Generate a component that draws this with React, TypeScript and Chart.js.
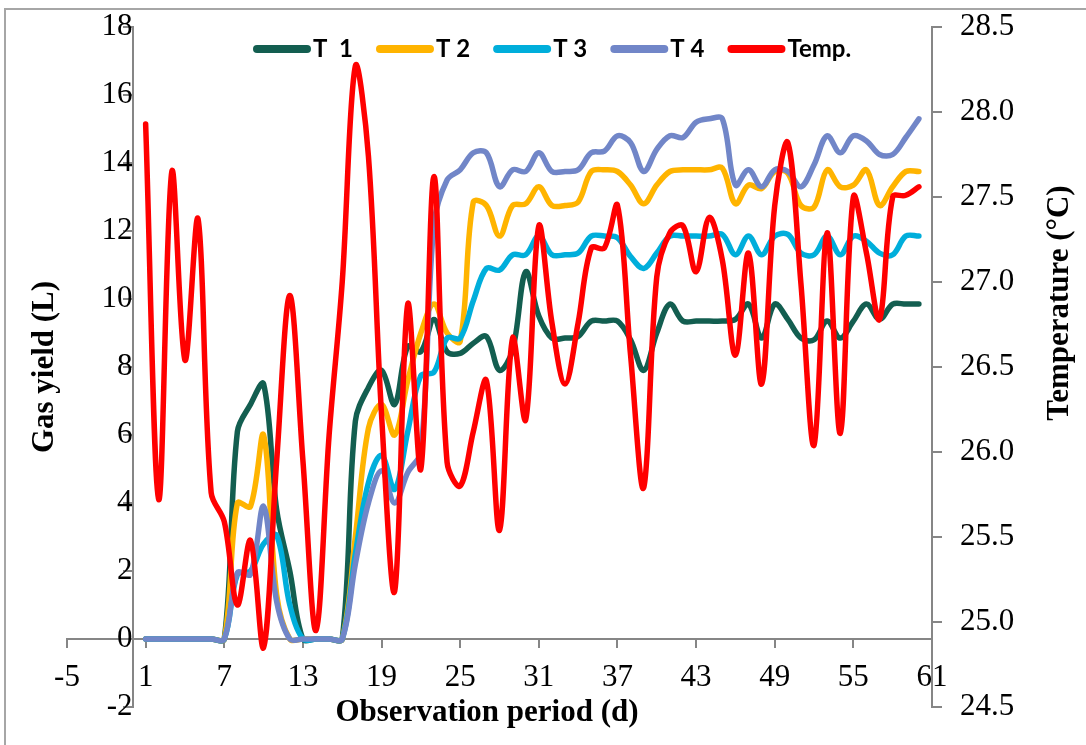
import React, { useEffect, useRef } from 'react';
import { Chart, registerables } from 'chart.js';

Chart.register(...registerables);

// ---------- data ----------
const DAYS = [
  1, 2, 3, 4, 5, 6, 7, 8, 9, 10,
  11, 12, 13, 14, 15, 16, 17, 18, 19, 20,
  21, 22, 23, 24, 25, 26, 27, 28, 29, 30,
  31, 32, 33, 34, 35, 36, 37, 38, 39, 40,
  41, 42, 43, 44, 45, 46, 47, 48, 49, 50,
  51, 52, 53, 54, 55, 56, 57, 58, 59, 60,
];

const T1 = [
  0, 0, 0, 0, 0, 0, 0, 6.1, 6.9, 7.5,
  3.8, 2.0, 0, 0, 0, 0, 6.4, 7.4, 7.9, 6.9,
  8.6, 8.45, 9.4, 8.45, 8.4, 8.7, 8.9, 7.9, 8.5, 10.8,
  9.5, 8.85, 8.85, 8.9, 9.35, 9.35, 9.35, 8.8, 7.9, 9.0,
  9.85, 9.35, 9.35, 9.35, 9.35, 9.4, 9.85, 8.85, 9.85, 9.4,
  8.85, 8.8, 9.35, 8.85, 9.35, 9.85, 9.4, 9.85, 9.85, 9.85,
];

const T2 = [
  0, 0, 0, 0, 0, 0, 0, 4.0, 3.9, 6.0,
  1.3, 0, 0, 0, 0, 0, 3.0, 6.2, 6.9, 6.0,
  7.6, 9.0, 9.85, 9.0, 8.75, 12.85, 12.75, 11.85, 12.75, 12.8,
  13.3, 12.75, 12.75, 12.85, 13.75, 13.8, 13.75, 13.35, 12.8, 13.35,
  13.75, 13.8, 13.8, 13.8, 13.85, 12.8, 13.35, 13.25, 13.75, 13.7,
  12.75, 12.7, 13.8, 13.3, 13.35, 13.8, 12.75, 13.3, 13.75, 13.75,
];

const T3 = [
  0, 0, 0, 0, 0, 0, 0, 1.9, 2.0, 2.8,
  3.05, 1.0, 0, 0, 0, 0, 2.5, 4.6, 5.4, 4.4,
  6.1, 7.75, 7.85, 8.85, 8.85, 9.95, 10.9, 10.85, 11.3, 11.3,
  11.85, 11.3, 11.3, 11.35, 11.85, 11.85, 11.8, 11.25, 10.9, 11.35,
  11.85, 11.85, 11.85, 11.85, 11.9, 11.3, 11.85, 11.3, 11.85, 11.9,
  11.35, 11.3, 11.85, 11.3, 11.85, 11.7, 11.35, 11.3, 11.85, 11.85,
];

const T4 = [
  0, 0, 0, 0, 0, 0, 0, 1.95, 1.9, 3.9,
  1.1, 0, 0, 0, 0, 0, 2.2, 4.0, 4.95, 4.0,
  4.9, 5.5, 12.2, 13.5, 13.8, 14.3, 14.3, 13.3, 13.8, 13.75,
  14.3, 13.75, 13.75, 13.8, 14.3, 14.35, 14.8, 14.6, 13.75, 14.4,
  14.8, 14.75, 15.2, 15.3, 15.3, 13.35, 13.8, 13.3, 13.8, 13.75,
  13.3, 13.95, 14.8, 14.3, 14.8, 14.65, 14.25, 14.25, 14.75, 15.3,
];

const TEMP = [
  27.93, 25.72, 27.65, 26.54, 27.37, 25.76, 25.59, 25.10, 25.48, 24.85,
  25.95, 26.92, 25.95, 24.95, 26.10, 27.00, 28.27, 27.74, 26.22, 25.18,
  26.87, 25.90, 27.62, 25.94, 25.80, 26.12, 26.42, 25.54, 26.67, 26.19,
  27.33, 26.76, 26.40, 26.76, 27.20, 27.20, 27.45, 26.57, 25.79, 27.03,
  27.29, 27.33, 27.06, 27.38, 27.13, 26.57, 27.17, 26.40, 27.45, 27.82,
  26.99, 26.04, 27.29, 26.11, 27.50, 27.17, 26.78, 27.50, 27.51, 27.56,
];

const SERIES_LABELS = ['T  1', 'T 2', 'T 3', 'T 4', 'Temp.'];
const COLORS = ['#135E50', '#FFB400', '#00AEDB', '#7186C8', '#FF0000'];

const X_TICKS = [-5, 1, 7, 13, 19, 25, 31, 37, 43, 49, 55, 61];
const Y_TICKS = [-2, 0, 2, 4, 6, 8, 10, 12, 14, 16, 18];
const Y2_TICKS = [24.5, 25.0, 25.5, 26.0, 26.5, 27.0, 27.5, 28.0, 28.5];

const X_TITLE = 'Observation period (d)';
const Y_TITLE = 'Gas yield (L)';
const Y2_TITLE = 'Temperature (°C)';

// ---------- styles ----------
const AXIS_COLOR = '#868686';
const SERIF = '"Liberation Serif", "Times New Roman", serif';
const TICK_FONT = { family: SERIF, size: 31 };
const LINE_WIDTH = 5.5;

const framePlugin = {
  id: 'frame',
  beforeDraw(chart: any) {
    const ctx = chart.ctx;
    ctx.save();
    ctx.fillStyle = '#ffffff';
    ctx.fillRect(0, 0, chart.width, chart.height);
    ctx.strokeStyle = '#a6a6a6';
    ctx.lineWidth = 2;
    ctx.strokeRect(5, 9, 2000, 2000);
    ctx.restore();
  },
};

const titlePlugin = {
  id: 'axisTitles',
  afterDraw(chart: any) {
    const ctx = chart.ctx;
    ctx.save();
    ctx.fillStyle = '#000';
    ctx.font = `bold 31px ${SERIF}`;
    ctx.textAlign = 'center';
    ctx.textBaseline = 'middle';
    ctx.fillText(X_TITLE, 487, 713);

    ctx.save();
    ctx.translate(45, 367);
    ctx.rotate(-Math.PI / 2);
    ctx.fillText(Y_TITLE, 0, 0);
    ctx.restore();

    ctx.save();
    ctx.translate(1060, 303);
    ctx.rotate(-Math.PI / 2);
    ctx.fillText(Y2_TITLE, 0, 0);
    ctx.restore();
    ctx.restore();
  },
};

const legendPlugin = {
  id: 'lineLegend',
  afterDraw(chart: any) {
    const ctx = chart.ctx;
    ctx.save();
    ctx.font = 'bold 24px Lato, "Liberation Sans", sans-serif';
    ctx.textBaseline = 'middle';
    ctx.textAlign = 'left';
    let x = 253;
    const y = 49;
    chart.data.datasets.forEach((ds: any) => {
      ctx.strokeStyle = ds.borderColor;
      ctx.lineWidth = 8;
      ctx.lineCap = 'round';
      ctx.beginPath();
      ctx.moveTo(x + 4, y);
      ctx.lineTo(x + 54, y);
      ctx.stroke();
      ctx.fillStyle = '#000';
      ctx.fillText(ds.label, x + 60, y);
      x += 60 + ctx.measureText(ds.label).width + 23;
    });
    ctx.restore();
  },
};

const noPadding = (scale: any) => {
  scale.paddingTop = 0;
  scale.paddingBottom = 0;
  scale.paddingLeft = 0;
  scale.paddingRight = 0;
};

export default function App() {
  const ref = useRef<HTMLCanvasElement>(null);

  useEffect(() => {
    if (!ref.current) return;
    const toPoints = (vals: number[]) => DAYS.map((d, i) => ({ x: d, y: vals[i] }));
    const gasSeries = [T1, T2, T3, T4];
    const datasets: any[] = gasSeries.map((s, i) => ({
      label: SERIES_LABELS[i],
      data: toPoints(s),
      borderColor: COLORS[i],
      backgroundColor: COLORS[i],
      borderWidth: LINE_WIDTH,
      pointRadius: 0,
      tension: 0.35,
      borderCapStyle: 'round',
      borderJoinStyle: 'round',
      yAxisID: 'y',
      order: 5 - i,
    }));
    datasets.push({
      label: SERIES_LABELS[4],
      data: toPoints(TEMP),
      borderColor: COLORS[4],
      backgroundColor: COLORS[4],
      borderWidth: LINE_WIDTH,
      pointRadius: 0,
      tension: 0.35,
      borderCapStyle: 'round',
      borderJoinStyle: 'round',
      yAxisID: 'y2',
      order: 0,
    });

    const setTicks = (arr: number[]) => (scale: any) => {
      scale.ticks = arr.map((v) => ({ value: v }));
    };

    const chart = new Chart(ref.current, {
      type: 'line',
      data: { datasets },
      options: {
        responsive: false,
        animation: false,
        devicePixelRatio: 1,
        layout: { autoPadding: false, padding: { left: 67, top: 27, right: 0, bottom: 38 } },
        plugins: {
          legend: { display: false },
          tooltip: { enabled: false },
        },
        scales: {
          x: {
            type: 'linear',
            position: { y: 0 } as any,
            min: -5,
            max: 61,
            afterBuildTicks: setTicks(X_TICKS),
            afterFit: noPadding,
            grid: {
              drawOnChartArea: false,
              drawTicks: true,
              tickLength: 8,
              color: AXIS_COLOR,
              lineWidth: 2,
            },
            border: { display: true, color: AXIS_COLOR, width: 2 },
            ticks: {
              font: TICK_FONT,
              color: '#000',
              padding: 12,
              maxRotation: 0,
              autoSkip: false,
              callback: (v: any) => String(v),
            },
          },
          y: {
            type: 'linear',
            position: { x: 0 } as any,
            min: -2,
            max: 18,
            afterBuildTicks: setTicks(Y_TICKS),
            afterFit: noPadding,
            grid: {
              drawOnChartArea: false,
              drawTicks: true,
              tickLength: 9,
              color: AXIS_COLOR,
              lineWidth: 2,
            },
            border: { display: true, color: AXIS_COLOR, width: 2 },
            ticks: {
              font: TICK_FONT,
              color: '#000',
              padding: 19,
              autoSkip: false,
              callback: (v: any) => String(v),
            },
          },
          y2: {
            type: 'linear',
            axis: 'y',
            position: 'right',
            min: 24.5,
            max: 28.5,
            afterBuildTicks: setTicks(Y2_TICKS),
            afterFit: (scale: any) => {
              noPadding(scale);
              scale.width = 154;
            },
            grid: {
              drawOnChartArea: false,
              drawTicks: true,
              tickLength: 10,
              color: AXIS_COLOR,
              lineWidth: 2,
            },
            border: { display: true, color: AXIS_COLOR, width: 2 },
            ticks: {
              font: TICK_FONT,
              color: '#000',
              padding: 18,
              autoSkip: false,
              callback: (v: any) => Number(v).toFixed(1),
            },
          },
        } as any,
      },
      plugins: [framePlugin, titlePlugin, legendPlugin],
    });

    return () => chart.destroy();
  }, []);

  return (
    <div style={{ position: 'fixed', left: 0, top: 0, width: 1086, height: 745 }}>
      <canvas ref={ref} width={1086} height={745} style={{ width: 1086, height: 745 }} />
    </div>
  );
}
